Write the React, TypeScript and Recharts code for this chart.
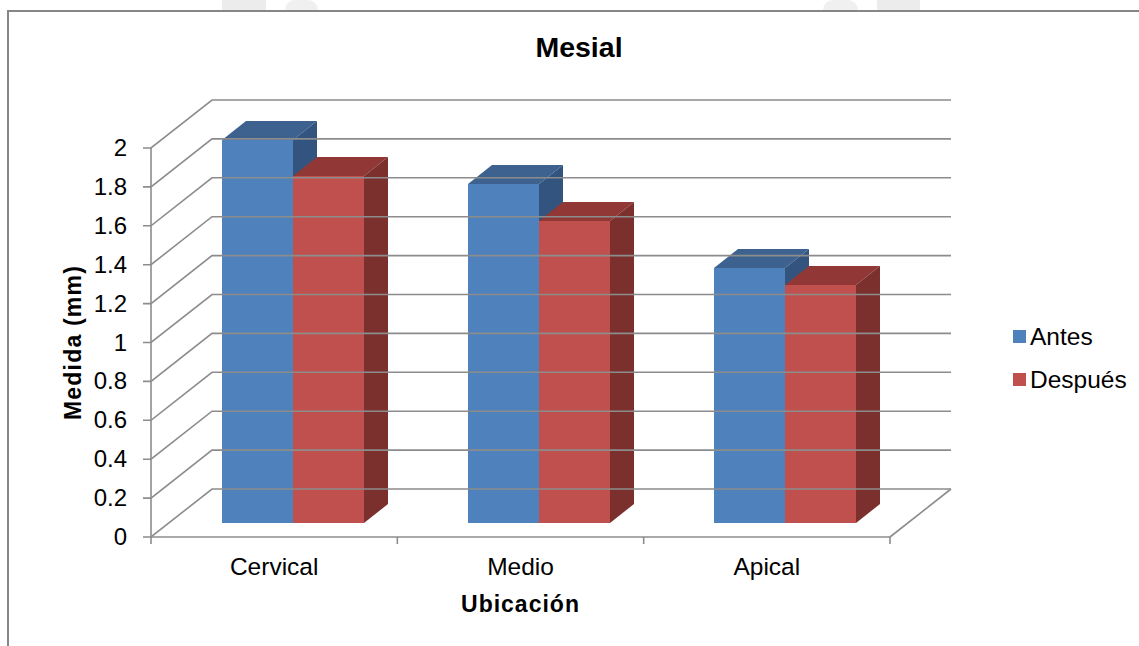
import { BarChart, Bar, XAxis, YAxis, Legend, Label } from "recharts";

const categories = ["Cervical", "Medio", "Apical"];
const antes = [1.97, 1.74, 1.31];
const despues = [1.78, 1.55, 1.22];
const yTicks = [0, 0.2, 0.4, 0.6, 0.8, 1, 1.2, 1.4, 1.6, 1.8, 2];

const data = categories.map((name, i) => ({ name, antes: antes[i], despues: despues[i] }));

const W = 1139;
const H = 646;
const left = 151;
const right = 890;
const top = 148;
const bottom = 537;
const legendWidth = 126;
const font = "'Liberation Sans', Arial, sans-serif";
const line = "#8c8c8c";

// depth of the box the chart sits in, and of each column
const wallX = 61;
const wallY = 48;
const barDepthX = 24;
const barDepthY = 19;
// columns stand partway into the floor
const barShiftX = 18;
const barShiftY = 14.3;

function Column({ x, y, width, height, fill, topFill, sideFill }: any) {
  // snapped to whole pixels so the faces meet without a light seam
  const x0 = Math.round(x + barShiftX);
  const x1 = Math.round(x + barShiftX + width);
  const y0 = Math.round(y - barShiftY);
  const y1 = Math.round(y - barShiftY + height);
  return (
    <g>
      <polygon
        points={`${x0},${y0} ${x0 + barDepthX},${y0 - barDepthY} ${x1 + barDepthX},${y0 - barDepthY} ${x1},${y0}`}
        fill={topFill}
      />
      <polygon
        points={`${x1},${y0} ${x1 + barDepthX},${y0 - barDepthY} ${x1 + barDepthX},${y1 - barDepthY} ${x1},${y1}`}
        fill={sideFill}
      />
      <rect x={x0} y={y0} width={x1 - x0} height={y1 - y0} fill={fill} />
    </g>
  );
}

// value label, tick mark, and the gridline running up the side wall and across the back
function ValueTick({ x, y, payload }: any) {
  const isFloor = payload.value === 0;
  return (
    <g>
      <path
        d={`M${left - 8},${y}H${left}L${left + wallX},${y - wallY}H${right + wallX}`}
        fill="none"
        stroke={line}
        strokeWidth={1.6}
      />
      {isFloor && (
        <path d={`M${right},${y}L${right + wallX},${y - wallY}`} fill="none" stroke={line} strokeWidth={1.6} />
      )}
      <text x={x - 22} y={y + 8} textAnchor="end" fontSize={24} fontFamily={font} fill="#000">
        {String(payload.value)}
      </text>
    </g>
  );
}

function CategoryTick({ x, y, payload, index }: any) {
  const band = (right - left) / categories.length;
  const edge = left + band * index;
  return (
    <g>
      <line x1={edge} x2={edge} y1={bottom} y2={bottom + 7} stroke={line} strokeWidth={1.6} />
      {index === categories.length - 1 && (
        <line x1={right} x2={right} y1={bottom} y2={bottom + 7} stroke={line} strokeWidth={1.6} />
      )}
      <text x={x} y={y + 38} textAnchor="middle" fontSize={24.5} fontFamily={font} fill="#000">
        {payload.value}
      </text>
    </g>
  );
}

function LegendList({ payload }: any) {
  return (
    <div style={{ fontFamily: font, fontSize: 24.5, color: "#000" }}>
      {payload.map((entry: any) => (
        <div key={entry.value} style={{ display: "flex", alignItems: "center", height: 43 }}>
          <span style={{ width: 13, height: 13, marginRight: 4, background: entry.color }} />
          {entry.value}
        </div>
      ))}
    </div>
  );
}

export default function App() {
  return (
    <div style={{ position: "absolute", left: 0, top: 0, width: W, height: H, background: "#fff", overflow: "hidden" }}>
      {/* faint letterhead marks showing above the chart frame */}
      <div style={{ position: "absolute", left: 222, top: 0, width: 44, height: 10, background: "#ececec" }} />
      <div style={{ position: "absolute", left: 285, top: 0, width: 33, height: 10, background: "#f0f0f0", borderRadius: "16px 16px 0 0" }} />
      <div style={{ position: "absolute", left: 823, top: 0, width: 35, height: 10, background: "#f0f0f0", borderRadius: "16px 16px 0 0" }} />
      <div style={{ position: "absolute", left: 877, top: 0, width: 43, height: 10, background: "#ececec" }} />
      <div style={{ position: "absolute", left: 7, top: 10, width: W, height: H, boxSizing: "border-box", borderTop: "2px solid #868686", borderLeft: "2px solid #868686" }} />
      <div style={{ position: "absolute", left: 0, top: 0 }}>
        <BarChart
          width={W}
          height={H}
          data={data}
          barGap={0}
          barCategoryGap={52.6}
          margin={{ top, right: W - right - legendWidth, bottom: 49, left: 0 }}
        >
          <text x={579} y={57} textAnchor="middle" fontSize={28.5} fontWeight="bold" fontFamily={font} fill="#000">
            Mesial
          </text>
          <XAxis
            dataKey="name"
            height={60}
            interval={0}
            tick={(p: any) => <CategoryTick {...p} y={p.y - 8} />}
            tickLine={false}
            axisLine={{ stroke: line, strokeWidth: 1.6 }}
          >
            <Label
              value="Ubicación"
              position="insideBottom"
              offset={2}
              dy={17}
              style={{ fontSize: 23, fontWeight: "bold", fontFamily: font, fill: "#000", letterSpacing: 1 }}
            />
          </XAxis>
          <YAxis
            width={left}
            domain={[0, 2]}
            ticks={yTicks}
            interval={0}
            tick={ValueTick}
            tickSize={0}
            tickLine={false}
            axisLine={{ stroke: line, strokeWidth: 1.6 }}
          >
            <Label
              value="Medida (mm)"
              angle={-90}
              position="insideLeft"
              offset={73}
              style={{ fontSize: 23, fontWeight: "bold", fontFamily: font, fill: "#000", letterSpacing: 1.2, textAnchor: "middle" }}
            />
          </YAxis>
          <Legend
            layout="vertical"
            align="right"
            verticalAlign="top"
            content={LegendList}
            wrapperStyle={{ left: 1013, top: 315, width: legendWidth }}
          />
          <Bar
            dataKey="antes"
            name="Antes"
            fill="#4f81bd"
            isAnimationActive={false}
            shape={(p: any) => <Column {...p} topFill="#3d628f" sideFill="#33547e" />}
          />
          <Bar
            dataKey="despues"
            name="Después"
            fill="#c0504d"
            isAnimationActive={false}
            shape={(p: any) => <Column {...p} topFill="#913837" sideFill="#7b302e" />}
          />
        </BarChart>
      </div>
    </div>
  );
}
